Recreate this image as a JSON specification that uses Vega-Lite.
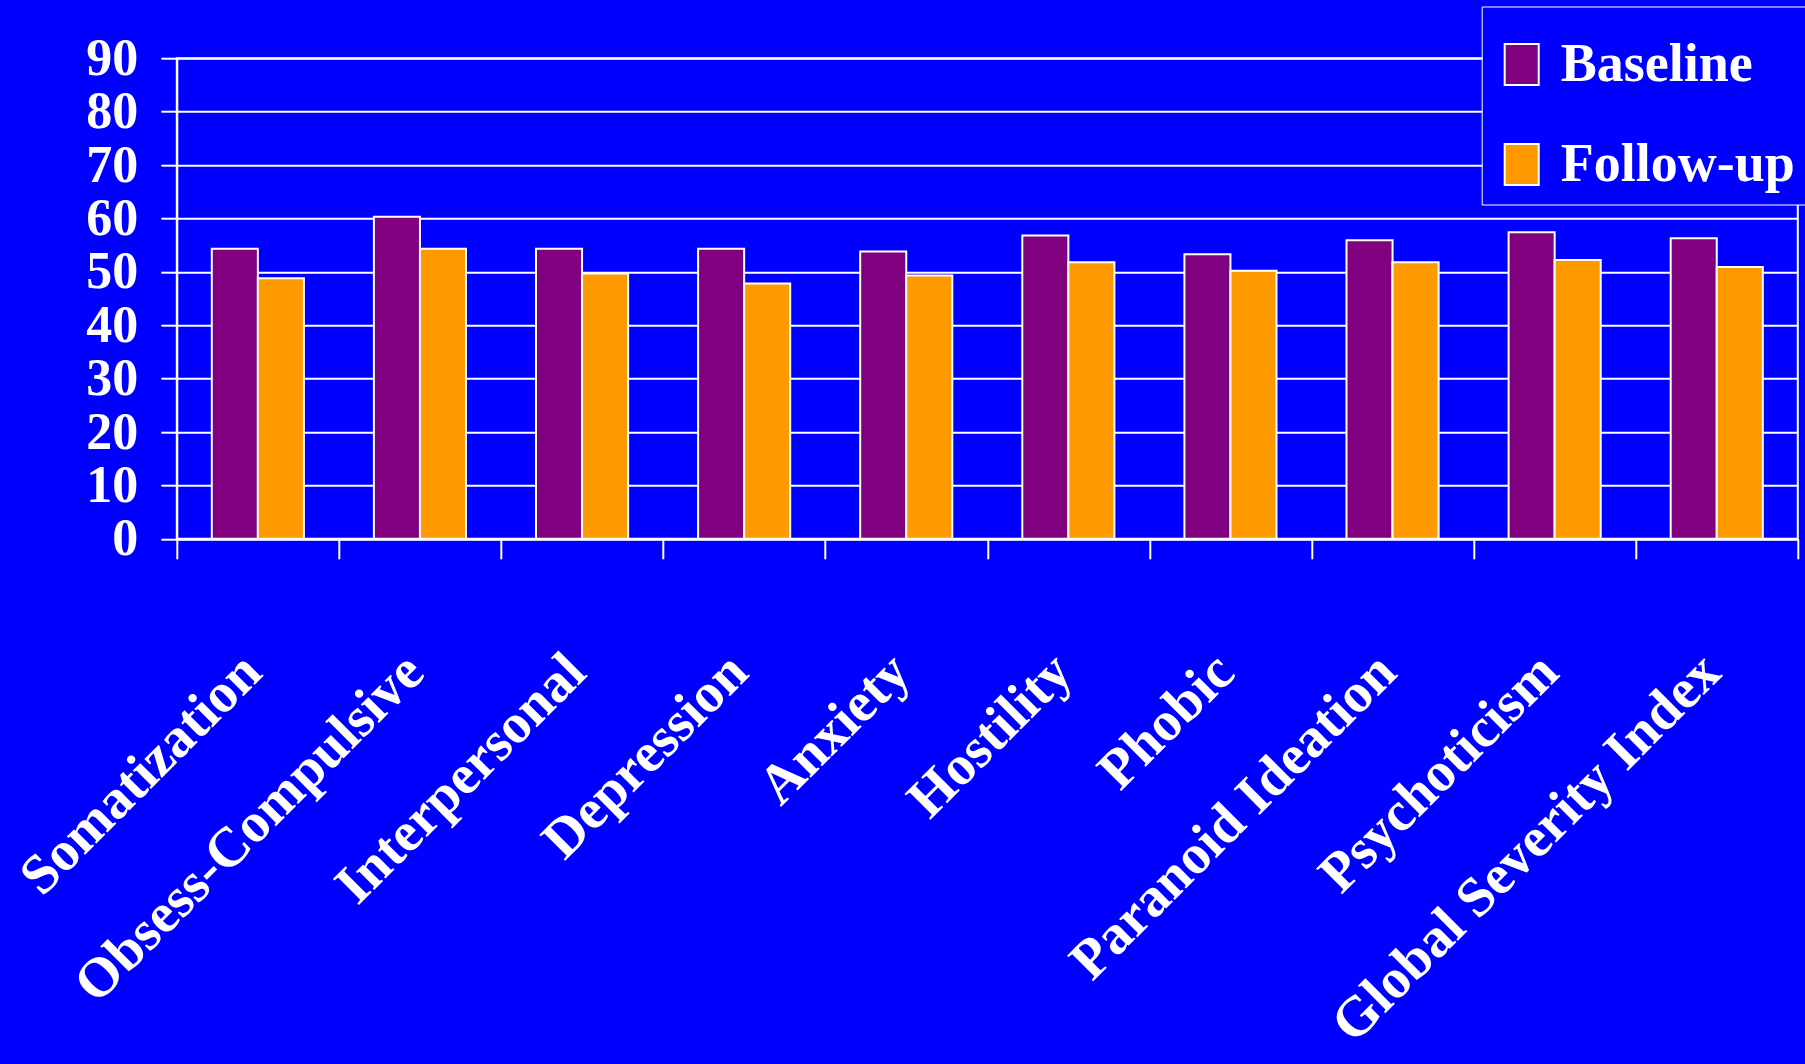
{
  "$schema": "https://vega.github.io/schema/vega-lite/v6.json",
  "width": 1621,
  "height": 480.6,
  "autosize": "none",
  "padding": {"left": 176.8, "top": 58.2, "right": 7.2, "bottom": 525.2},
  "background": "#0000FF",
  "config": {
    "view": {"stroke": "white", "strokeWidth": 2},
    "font": "Liberation Serif"
  },
  "data": {
    "values": [
      {"scale_name": "Somatization", "visit": "Baseline", "score": 54.3},
      {"scale_name": "Somatization", "visit": "Follow-up", "score": 48.8},
      {"scale_name": "Obsess-Compulsive", "visit": "Baseline", "score": 60.3},
      {"scale_name": "Obsess-Compulsive", "visit": "Follow-up", "score": 54.3},
      {"scale_name": "Interpersonal", "visit": "Baseline", "score": 54.3},
      {"scale_name": "Interpersonal", "visit": "Follow-up", "score": 49.7},
      {"scale_name": "Depression", "visit": "Baseline", "score": 54.3},
      {"scale_name": "Depression", "visit": "Follow-up", "score": 47.8},
      {"scale_name": "Anxiety", "visit": "Baseline", "score": 53.8},
      {"scale_name": "Anxiety", "visit": "Follow-up", "score": 49.3},
      {"scale_name": "Hostility", "visit": "Baseline", "score": 56.8},
      {"scale_name": "Hostility", "visit": "Follow-up", "score": 51.8},
      {"scale_name": "Phobic", "visit": "Baseline", "score": 53.3},
      {"scale_name": "Phobic", "visit": "Follow-up", "score": 50.2},
      {"scale_name": "Paranoid Ideation", "visit": "Baseline", "score": 55.9},
      {"scale_name": "Paranoid Ideation", "visit": "Follow-up", "score": 51.8},
      {"scale_name": "Psychoticism", "visit": "Baseline", "score": 57.4},
      {"scale_name": "Psychoticism", "visit": "Follow-up", "score": 52.2},
      {"scale_name": "Global Severity Index", "visit": "Baseline", "score": 56.3},
      {"scale_name": "Global Severity Index", "visit": "Follow-up", "score": 50.9}
    ]
  },
  "mark": {"type": "bar", "stroke": "white", "strokeWidth": 2},
  "encoding": {
    "x": {
      "field": "scale_name",
      "type": "nominal",
      "sort": null,
      "scale": {"paddingInner": 0, "paddingOuter": 0},
      "axis": {
        "title": null,
        "domainColor": "white",
        "domainWidth": 2,
        "ticks": true,
        "tickColor": "white",
        "tickWidth": 2,
        "tickSize": 20,
        "tickBand": "extent",
        "grid": false,
        "labelAngle": -45,
        "labelAlign": "right",
        "labelBaseline": "middle",
        "labelFont": "Liberation Serif",
        "labelFontWeight": "bold",
        "labelFontSize": 56,
        "labelColor": "white",
        "labelPadding": 104,
        "labelOffset": -6,
        "labelLimit": 0,
        "labelOverlap": false,
        "labelBound": false
      }
    },
    "xOffset": {
      "field": "visit",
      "type": "nominal",
      "sort": ["Baseline", "Follow-up"],
      "scale": {"paddingInner": 0, "paddingOuter": 0.76}
    },
    "y": {
      "field": "score",
      "type": "quantitative",
      "scale": {"domain": [0, 90], "nice": false},
      "axis": {
        "title": null,
        "values": [0, 10, 20, 30, 40, 50, 60, 70, 80, 90],
        "domainColor": "white",
        "domainWidth": 2,
        "tickColor": "white",
        "tickWidth": 2,
        "tickSize": 16,
        "grid": true,
        "gridColor": "white",
        "gridWidth": 2,
        "gridOpacity": 1,
        "labelFont": "Liberation Serif",
        "labelFontWeight": "bold",
        "labelFontSize": 52,
        "labelColor": "white",
        "labelPadding": 23,
        "labelBaseline": "middle",
        "labelFlush": false,
        "labelOverlap": false,
        "labelBound": false
      }
    },
    "color": {
      "field": "visit",
      "type": "nominal",
      "scale": {"domain": ["Baseline", "Follow-up"], "range": ["#800080", "#FF9900"]},
      "legend": {
        "orient": "none",
        "legendX": 1304.9,
        "legendY": -51.7,
        "title": " ",
        "titleFontSize": 12,
        "titlePadding": 6,
        "fillColor": "#0000FF",
        "strokeColor": "white",
        "padding": 13,
        "rowPadding": 46,
        "symbolType": "M-0.83,-1H0.83V1H-0.83Z",
        "symbolSize": 1681,
        "symbolStrokeColor": "white",
        "symbolStrokeWidth": 2,
        "symbolOpacity": 1,
        "labelFont": "Liberation Serif",
        "labelFontWeight": "bold",
        "labelFontSize": 54,
        "labelColor": "white",
        "labelOffset": 12,
        "labelLimit": 400
      }
    }
  }
}
